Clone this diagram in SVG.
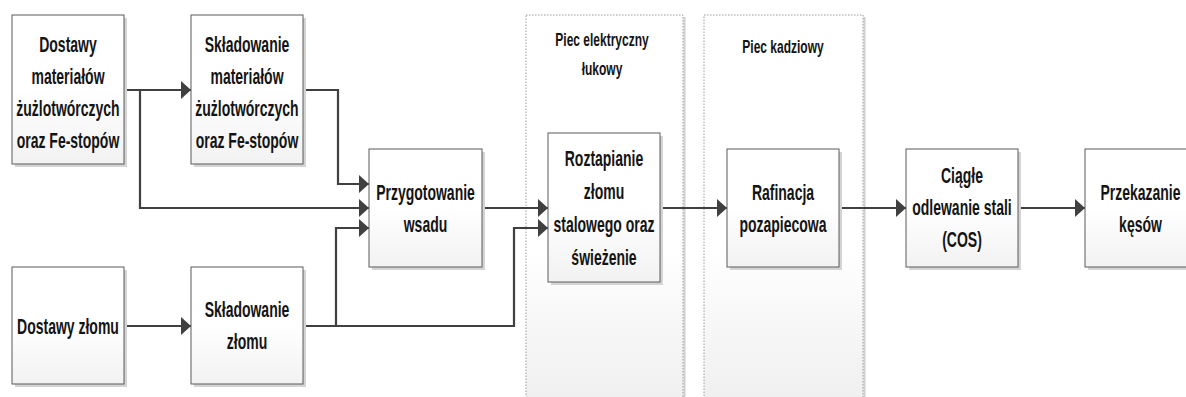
<svg xmlns="http://www.w3.org/2000/svg" width="1186" height="397" viewBox="0 0 1186 397">
<style>
.box{fill:url(#bg);stroke:#5a5a5a;stroke-width:1}
.sh{fill:#d4d4d4}
.cont{fill:url(#cg);stroke:#9a9a9a;stroke-width:1;stroke-dasharray:1.5 1.5}
.csh{fill:none;stroke:#cfcfcf;stroke-width:2}
.t{font-family:"Liberation Sans",Arial,sans-serif;font-weight:bold;font-size:14px;fill:#141414;text-anchor:middle}
.l{font-size:12px}
.c{fill:none;stroke:#404040;stroke-width:2.2}
</style>
<defs>
<linearGradient id="bg" x1="0" y1="0" x2="0" y2="1">
<stop offset="0" stop-color="#ffffff"/>
<stop offset="0.5" stop-color="#ffffff"/>
<stop offset="1" stop-color="#f2f2f2"/>
</linearGradient>
<linearGradient id="cg" x1="0" y1="0" x2="0" y2="1">
<stop offset="0" stop-color="#ffffff"/>
<stop offset="0.6" stop-color="#ffffff"/>
<stop offset="1" stop-color="#efefef"/>
</linearGradient>
<marker id="ah" markerUnits="userSpaceOnUse" markerWidth="11" markerHeight="19" refX="10" refY="9" orient="auto">
<path d="M0,0 L10,9 L0,18 Z" fill="#404040"/>
</marker>
</defs>

<g id="container-piec-elektryczny">
<line class="csh" x1="684.5" y1="17" x2="684.5" y2="397"/>
<rect class="cont" x="526" y="15" width="157" height="390"/>
<text class="t l" transform="scale(1,1.6)" x="602" y="28.75">Piec elektryczny</text>
<text class="t l" transform="scale(1,1.6)" x="602" y="46.875">łukowy</text>
</g>
<g id="container-piec-kadziowy">
<line class="csh" x1="864.5" y1="17" x2="864.5" y2="397"/>
<rect class="cont" x="704" y="15" width="159" height="390"/>
<text class="t l" transform="scale(1,1.6)" x="783" y="33.125">Piec kadziowy</text>
</g>

<g id="connectors">
<path class="c" d="M124,90 H191" marker-end="url(#ah)"/>
<path class="c" d="M140,90 V208 H369" marker-end="url(#ah)"/>
<path class="c" d="M303,90 H338 V184 H369" marker-end="url(#ah)"/>
<path class="c" d="M124,326 H191" marker-end="url(#ah)"/>
<path class="c" d="M303,326 H514 V228 H548" marker-end="url(#ah)"/>
<path class="c" d="M336,326 V228 H369" marker-end="url(#ah)"/>
<path class="c" d="M482,208 H548" marker-end="url(#ah)"/>
<path class="c" d="M660,208 H727" marker-end="url(#ah)"/>
<path class="c" d="M839,208 H906" marker-end="url(#ah)"/>
<path class="c" d="M1018,208 H1085" marker-end="url(#ah)"/>
</g>

<g id="dostawy-materialow">
<rect class="sh" x="15" y="18" width="112" height="149"/>
<rect class="box" x="12" y="15" width="112" height="149"/>
<text class="t" transform="scale(1,1.6)" x="68" y="32.5">Dostawy</text>
<text class="t" transform="scale(1,1.6)" x="68" y="52.5">materiałów</text>
<text class="t" transform="scale(1,1.6)" x="68" y="72.5">żużlotwórczych</text>
<text class="t" transform="scale(1,1.6)" x="68" y="92.5">oraz Fe-stopów</text>
</g>
<g id="skladowanie-materialow">
<rect class="sh" x="194" y="18" width="112" height="149"/>
<rect class="box" x="191" y="15" width="112" height="149"/>
<text class="t" transform="scale(1,1.6)" x="247" y="32.5">Składowanie</text>
<text class="t" transform="scale(1,1.6)" x="247" y="52.5">materiałów</text>
<text class="t" transform="scale(1,1.6)" x="247" y="72.5">żużlotwórczych</text>
<text class="t" transform="scale(1,1.6)" x="247" y="92.5">oraz Fe-stopów</text>
</g>
<g id="dostawy-zlomu">
<rect class="sh" x="15" y="270" width="112" height="117"/>
<rect class="box" x="12" y="267" width="112" height="117"/>
<text class="t" transform="scale(1,1.6)" x="68" y="208.75">Dostawy złomu</text>
</g>
<g id="skladowanie-zlomu">
<rect class="sh" x="194" y="270" width="112" height="117"/>
<rect class="box" x="191" y="267" width="112" height="117"/>
<text class="t" transform="scale(1,1.6)" x="247" y="198.125">Składowanie</text>
<text class="t" transform="scale(1,1.6)" x="247" y="218.125">złomu</text>
</g>
<g id="przygotowanie-wsadu">
<rect class="sh" x="372" y="152" width="113" height="118"/>
<rect class="box" x="369" y="149" width="113" height="118"/>
<text class="t" transform="scale(1,1.6)" x="425.5" y="125">Przygotowanie</text>
<text class="t" transform="scale(1,1.6)" x="425.5" y="145">wsadu</text>
</g>
<g id="roztapianie">
<rect class="sh" x="551" y="136" width="112" height="149"/>
<rect class="box" x="548" y="133" width="112" height="149"/>
<text class="t" transform="scale(1,1.6)" x="604" y="103.75">Roztapianie</text>
<text class="t" transform="scale(1,1.6)" x="604" y="124.375">złomu</text>
<text class="t" transform="scale(1,1.6)" x="604" y="145">stalowego oraz</text>
<text class="t" transform="scale(1,1.6)" x="604" y="165.625">świeżenie</text>
</g>
<g id="rafinacja">
<rect class="sh" x="730" y="152" width="112" height="118"/>
<rect class="box" x="727" y="149" width="112" height="118"/>
<text class="t" transform="scale(1,1.6)" x="783" y="125">Rafinacja</text>
<text class="t" transform="scale(1,1.6)" x="783" y="145">pozapiecowa</text>
</g>
<g id="ciagle-odlewanie">
<rect class="sh" x="909" y="152" width="112" height="118"/>
<rect class="box" x="906" y="149" width="112" height="118"/>
<text class="t" transform="scale(1,1.6)" x="962" y="114.375">Ciągłe</text>
<text class="t" transform="scale(1,1.6)" x="962" y="134.375">odlewanie stali</text>
<text class="t" transform="scale(1,1.6)" x="962" y="154.375">(COS)</text>
</g>
<g id="przekazanie-kesow">
<rect class="sh" x="1088" y="152" width="112" height="118"/>
<rect class="box" x="1085" y="149" width="112" height="118"/>
<text class="t" transform="scale(1,1.6)" x="1140.5" y="125">Przekazanie</text>
<text class="t" transform="scale(1,1.6)" x="1140.5" y="145">kęsów</text>
</g>
</svg>
